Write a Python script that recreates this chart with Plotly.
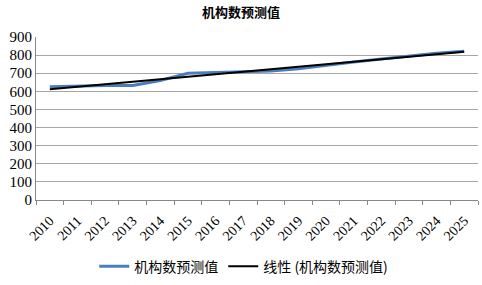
import numpy as np
import plotly.graph_objects as go

years = [str(y) for y in range(2010, 2026)]
values = [625, 630, 632, 632, 660, 700, 703, 705, 712, 725, 745, 762, 778, 795, 810, 822]
series_name = "机构数预测值"
trend_name = "线性 (机构数预测值)"
y_ticks = [0, 100, 200, 300, 400, 500, 600, 700, 800, 900]

idx = np.arange(len(values))
slope, intercept = np.polyfit(idx, values, 1)
trend = (slope * idx + intercept).tolist()

fig = go.Figure()
fig.add_trace(go.Scatter(x=years, y=values, mode="lines", name=series_name,
                         line=dict(color="#4A7EBB", width=3)))
fig.add_trace(go.Scatter(x=years, y=trend, mode="lines", name=trend_name,
                         line=dict(color="#000000", width=2)))

fig.update_layout(
    width=482, height=285,
    margin=dict(l=36, r=4, t=37, b=84),
    paper_bgcolor="white", plot_bgcolor="white",
    title=dict(text="<b>" + series_name + "</b>", x=0.5, xanchor="center",
               y=0.958, yanchor="middle", yref="container",
               font=dict(family="Noto Sans CJK SC", size=13, color="#000")),
    font=dict(family="Liberation Serif", size=12, color="#000"),
    showlegend=True,
    legend=dict(orientation="h", x=0.47, xanchor="center", y=-0.40, yanchor="middle",
                font=dict(family="Noto Sans CJK SC, Liberation Serif", size=14, color="#000"),
                tracegroupgap=0),
)
fig.update_xaxes(type="category", range=[-0.5, 15.5], tickangle=-45, automargin=False,
                 showline=True, linecolor="#888888", linewidth=1,
                 ticks="outside", tickson="boundaries", ticklen=4, tickcolor="#888888",
                 ticklabelstandoff=6,
                 showgrid=False, tickfont=dict(family="Liberation Serif", size=14))
fig.update_yaxes(range=[0, 900], tickvals=y_ticks, automargin=False,
                 showline=True, linecolor="#888888", linewidth=1,
                 showgrid=True, gridcolor="#A6A6A6", gridwidth=1, zeroline=False,
                 ticks="", tickfont=dict(family="Liberation Serif", size=15))

fig.write_html("out.html", config={"displayModeBar": False},
               post_script="document.body.style.margin='0';document.body.style.padding='0';")
